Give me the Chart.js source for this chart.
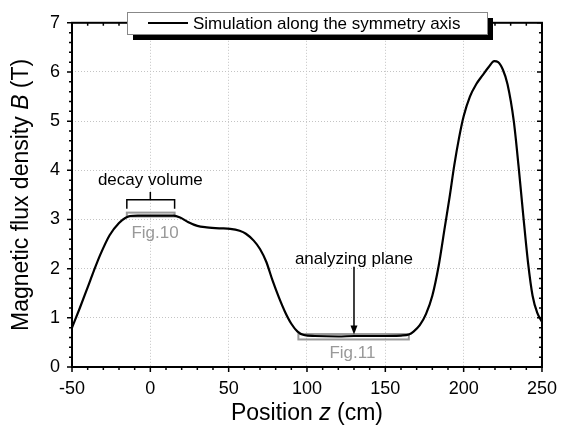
<!DOCTYPE html>
<html>
<head>
<meta charset="utf-8">
<script src="https://cdn.jsdelivr.net/npm/chart.js@4/dist/chart.umd.min.js"></script>
<style>
  html, body { margin: 0; padding: 0; background: #fff; }
  #wrap { width: 568px; height: 430px; }
</style>
</head>
<body>
<div id="wrap"><canvas id="fluxChart" width="568" height="430"></canvas></div>
<script>
// field along the symmetry axis
const positionZ = [-50, -45, -40, -36, -32, -26, -20, -16, -13, -8, 0, 8, 15, 19, 24, 30, 36, 44, 51, 57,
  61, 66, 70, 74, 78, 82, 86, 90, 94, 98, 105, 120, 130, 145, 160, 165, 168, 172, 176, 180,
  184, 188, 191, 194, 197, 200, 204, 208, 212, 216, 219.5, 222, 225, 228, 232, 235, 238, 241, 244, 247, 250];
const fluxB = [0.80, 1.20, 1.62, 1.96, 2.28, 2.68, 2.93, 3.03, 3.07, 3.08, 3.08, 3.08, 3.08, 3.04, 2.95, 2.87, 2.84, 2.82, 2.81, 2.77,
  2.71, 2.57, 2.40, 2.14, 1.76, 1.42, 1.12, 0.88, 0.72, 0.65, 0.63, 0.62, 0.63, 0.63, 0.64, 0.66, 0.72, 0.85, 1.08, 1.45,
  2.05, 2.85, 3.45, 4.10, 4.65, 5.10, 5.50, 5.75, 5.93, 6.10, 6.22, 6.20, 6.05, 5.75, 5.00, 4.10, 3.10, 2.15, 1.45, 1.10, 0.92];

const xTicks = [-50, 0, 50, 100, 150, 200, 250];
const yTicks = [0, 1, 2, 3, 4, 5, 6, 7];
const seriesLabel = 'Simulation along the symmetry axis';

// annotation boxes (z from, z to, B from, B to)
const fig10Box = [-15, 15.5, 3.06, 3.14];
const fig11Box = [94.5, 165, 0.56, 0.67];

const FONT = "'Liberation Sans', Arial, sans-serif";

const points = positionZ.map((z, i) => ({ x: z, y: fluxB[i] }));

const decorPlugin = {
  id: 'decor',
  beforeDatasetsDraw(chart) {
    const c = chart.ctx, xs = chart.scales.x, ys = chart.scales.y;
    c.save();
    c.strokeStyle = '#999';
    c.lineWidth = 2;
    [fig10Box, fig11Box].forEach(b => {
      const x0 = xs.getPixelForValue(b[0]), x1 = xs.getPixelForValue(b[1]);
      const y0 = ys.getPixelForValue(b[3]), y1 = ys.getPixelForValue(b[2]);
      c.strokeRect(x0, y0, x1 - x0, y1 - y0);
    });
    c.restore();
  },
  afterDraw(chart) {
    const c = chart.ctx, a = chart.chartArea, xs = chart.scales.x, ys = chart.scales.y;
    c.save();
    c.setLineDash([]);

    // frame
    c.strokeStyle = '#000';
    c.lineWidth = 2;
    c.strokeRect(a.left, a.top, a.right - a.left, a.bottom - a.top);

    // ticks: outward on bottom/left, inward on top/right
    c.lineWidth = 1.5;
    c.beginPath();
    for (let z = -50; z <= 250; z += 10) {
      const px = xs.getPixelForValue(z);
      const len = (z % 50 === 0) ? 5 : 3;
      c.moveTo(px, a.bottom); c.lineTo(px, a.bottom + len);
      c.moveTo(px, a.top); c.lineTo(px, a.top + len);
    }
    for (let k = 0; k <= 35; k++) {
      const py = ys.getPixelForValue(k * 0.2);
      const len = (k % 5 === 0) ? 5 : 3;
      c.moveTo(a.left, py); c.lineTo(a.left - len, py);
      c.moveTo(a.right, py); c.lineTo(a.right - len, py);
    }
    c.stroke();

    // axis titles with italic symbols
    const drawMixed = (parts, x, y) => {
      let total = 0;
      parts.forEach(p => { c.font = p[1] + ' 23px ' + FONT; total += c.measureText(p[0]).width; });
      let cx = x - total / 2;
      parts.forEach(p => {
        c.font = p[1] + ' 23px ' + FONT;
        c.fillText(p[0], cx, y);
        cx += c.measureText(p[0]).width;
      });
    };
    c.fillStyle = '#000';
    c.textBaseline = 'middle';
    c.textAlign = 'left';
    drawMixed([['Position ', 'normal'], ['z', 'italic'], [' (cm)', 'normal']], (a.left + a.right) / 2, 414);
    c.save();
    c.translate(22, (a.top + a.bottom) / 2);
    c.rotate(-Math.PI / 2);
    drawMixed([['Magnetic flux density ', 'normal'], ['B', 'italic'], [' (T)', 'normal']], 0, 0);
    c.restore();

    // legend box with shadow
    const lx = 127, ly = 12, lw = 360, lh = 22;
    c.fillStyle = '#000';
    c.fillRect(lx + 6, ly + 6, lw, lh);
    c.fillStyle = '#fff';
    c.fillRect(lx, ly, lw, lh);
    c.strokeStyle = '#888';
    c.lineWidth = 1;
    c.strokeRect(lx + 0.5, ly + 0.5, lw, lh);
    c.strokeStyle = '#000';
    c.lineWidth = 2;
    c.beginPath();
    c.moveTo(148, ly + 11); c.lineTo(188, ly + 11);
    c.stroke();
    c.fillStyle = '#000';
    c.font = '17px ' + FONT;
    c.textAlign = 'left';
    c.fillText(chart.data.datasets[0].label, 193, ly + 12);

    // bracket over the decay volume
    const bx0 = xs.getPixelForValue(fig10Box[0]), bx1 = xs.getPixelForValue(fig10Box[1]);
    const bxm = xs.getPixelForValue(0);
    const byLow = ys.getPixelForValue(3.22), byTop = ys.getPixelForValue(3.40), byTip = ys.getPixelForValue(3.56);
    c.lineWidth = 1.5;
    c.beginPath();
    c.moveTo(bx0, byLow); c.lineTo(bx0, byTop); c.lineTo(bx1, byTop); c.lineTo(bx1, byLow);
    c.moveTo(bxm, byTop); c.lineTo(bxm, byTip);
    c.stroke();

    c.textAlign = 'center';
    c.font = '17px ' + FONT;
    c.fillText('decay volume', bxm, ys.getPixelForValue(3.80));
    c.fillText('analyzing plane', xs.getPixelForValue(130), ys.getPixelForValue(2.20));

    // arrow down to the analyzing plane
    const ax = xs.getPixelForValue(130);
    const aTop = ys.getPixelForValue(2.04), aBot = ys.getPixelForValue(0.66);
    c.lineWidth = 1.5;
    c.beginPath();
    c.moveTo(ax, aTop); c.lineTo(ax, aBot - 7);
    c.stroke();
    c.beginPath();
    c.moveTo(ax - 3.5, aBot - 9); c.lineTo(ax + 3.5, aBot - 9); c.lineTo(ax, aBot); c.closePath();
    c.fill();

    c.fillStyle = '#999';
    c.fillText('Fig.10', xs.getPixelForValue(3), ys.getPixelForValue(2.71));
    c.fillText('Fig.11', xs.getPixelForValue(129), ys.getPixelForValue(0.27));
    c.restore();
  }
};

new Chart(document.getElementById('fluxChart').getContext('2d'), {
  type: 'line',
  data: {
    datasets: [{
      label: seriesLabel,
      data: points,
      borderColor: '#000',
      borderWidth: 2.2,
      pointRadius: 0,
      fill: false,
      cubicInterpolationMode: 'monotone'
    }]
  },
  options: {
    responsive: false,
    animation: false,
    events: [],
    layout: { padding: { top: 16, right: 17, left: 0, bottom: 0 } },
    plugins: { legend: { display: false }, tooltip: { enabled: false } },
    scales: {
      x: {
        type: 'linear',
        min: -50, max: 250,
        afterBuildTicks: s => { s.ticks = xTicks.map(v => ({ value: v })); },
        afterFit: s => { s.height = 63; },
        border: { display: false, dash: [1, 2] },
        grid: { color: '#c4c4c4', lineWidth: 1, drawTicks: false },
        ticks: { color: '#000', font: { family: FONT, size: 18 }, padding: 11, maxRotation: 0 }
      },
      y: {
        min: 0, max: 7,
        afterBuildTicks: s => { s.ticks = yTicks.map(v => ({ value: v })); },
        afterFit: s => { s.width = 72; },
        border: { display: false, dash: [1, 2] },
        grid: { color: '#c4c4c4', lineWidth: 1, drawTicks: false },
        ticks: { color: '#000', font: { family: FONT, size: 18 }, padding: 12 }
      }
    }
  },
  plugins: [decorPlugin]
});
</script>
</body>
</html>
